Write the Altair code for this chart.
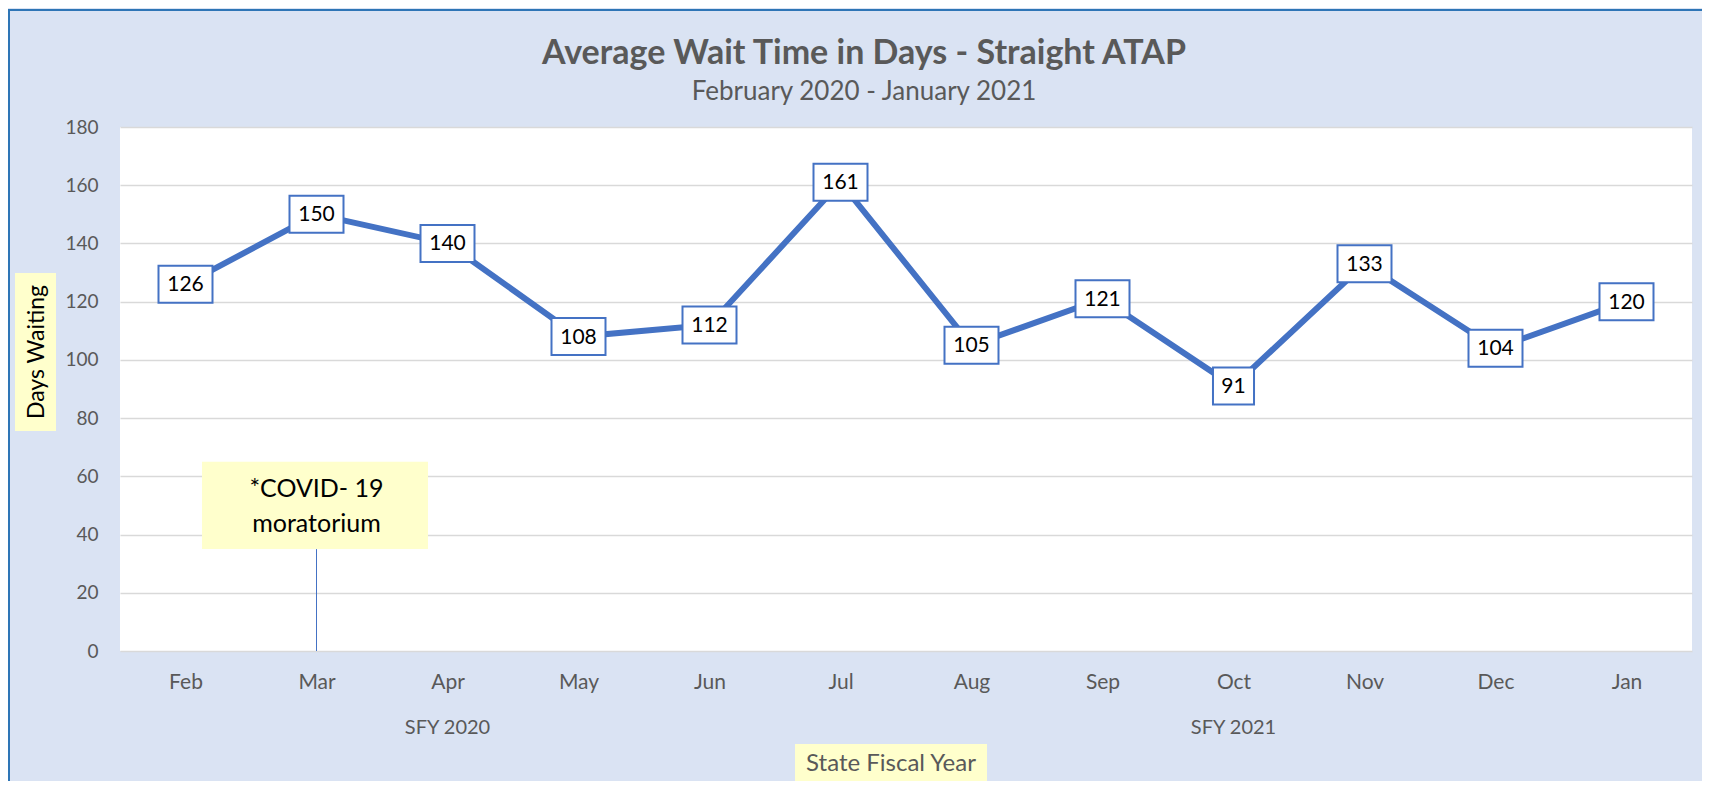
import altair as alt
import pandas as pd

# ---- data ----
months = ["Feb", "Mar", "Apr", "May", "Jun", "Jul", "Aug", "Sep", "Oct", "Nov", "Dec", "Jan"]
days_waiting = [126, 150, 140, 108, 112, 161, 105, 121, 91, 133, 104, 120]

fy_months = ["Apr", "Oct"]
fy_labels = ["SFY 2020", "SFY 2021"]

note_month = ["Mar"]
note_text = ["*COVID- 19\nmoratorium"]
note_low = [35]
note_high = [65]

title_text = "Average Wait Time in Days - Straight ATAP"
subtitle_text = "February 2020 - January 2021"
y_title = "Days Waiting"
x_title = "State Fiscal Year"

# ---- styling ----
FONT = "Lato"
BLUE = "#4472C4"
GREY = "#595959"
BG = "#DAE3F3"
YELLOW = "#FFFFCC"

df = pd.DataFrame({
    "month": months,
    "days": days_waiting,
    "label": [str(v) for v in days_waiting],
    "digits": [str(len(str(v))) for v in days_waiting],
})
fy_df = pd.DataFrame({"month": fy_months, "label": fy_labels})
note_df = pd.DataFrame({"month": note_month, "text": note_text,
                        "lo": note_low, "hi": note_high, "zero": [0]})

xscale = alt.Scale(type="point", domain=months, padding=0.5)
yscale = alt.Scale(domain=[0, 180])

x_enc = alt.X("month:N", scale=xscale, sort=months,
              axis=alt.Axis(title=None, labelAngle=0, labelFont=FONT, labelFontSize=21,
                            labelColor=GREY, labelPadding=20, ticks=False, domain=False,
                            grid=False))
y_enc = alt.Y("days:Q", scale=yscale,
              axis=alt.Axis(title=None, values=list(range(0, 181, 20)), labelFont=FONT,
                            labelFontSize=19, labelColor=GREY, labelPadding=22, ticks=False,
                            domain=False, grid=True, gridColor="#D9D9D9", gridWidth=1.5))

base = alt.Chart(df)

line = base.mark_line(color=BLUE, strokeWidth=6).encode(x=x_enc, y=y_enc)

path3 = "M-1,-0.685L1,-0.685L1,0.685L-1,0.685Z"
path2 = "M-0.76,-0.685L0.76,-0.685L0.76,0.685L-0.76,0.685Z"
boxes = base.mark_point(filled=True, fill="white", stroke=BLUE, strokeWidth=2,
                        opacity=1, size=2916).encode(
    x=alt.X("month:N", scale=xscale, sort=months),
    y=alt.Y("days:Q", scale=yscale),
    shape=alt.Shape("digits:N", scale=alt.Scale(domain=["2", "3"], range=[path2, path3]),
                    legend=None),
)
labels = base.mark_text(font=FONT, fontSize=21, color="black", baseline="middle",
                        align="center", dy=1).encode(
    x=alt.X("month:N", scale=xscale, sort=months),
    y=alt.Y("days:Q", scale=yscale),
    text="label:N",
)

# COVID annotation
note_base = alt.Chart(note_df)
note_rule = note_base.mark_rule(color=BLUE, strokeWidth=1).encode(
    x=alt.X("month:N", scale=xscale, sort=months),
    y=alt.Y("zero:Q", scale=yscale),
    y2="lo:Q",
)
note_box = note_base.mark_rect(fill=YELLOW, opacity=1).encode(
    x=alt.value(82), x2=alt.value(308),
    y=alt.Y("lo:Q", scale=yscale), y2="hi:Q",
)
note_label = note_base.mark_text(font=FONT, fontSize=25, color="black", baseline="middle",
                                 align="center", lineBreak="\n", lineHeight=35).encode(
    x=alt.X("month:N", scale=xscale, sort=months),
    y=alt.value(362),
    text="text:N",
)

# fiscal year group labels
fy_text = alt.Chart(fy_df).mark_text(font=FONT, fontSize=20, color=GREY,
                                     baseline="middle", align="center").encode(
    x=alt.X("month:N", scale=xscale, sort=months),
    y=alt.value(601),
    text="label:N",
)

# axis titles in yellow boxes
xt_df = pd.DataFrame({"t": [x_title]})
x_title_box = alt.Chart(xt_df).mark_rect(fill=YELLOW).encode(
    x=alt.value(675), x2=alt.value(867), y=alt.value(617), y2=alt.value(657))
x_title_txt = alt.Chart(xt_df).mark_text(font=FONT, fontSize=24, color=GREY,
                                         baseline="middle", align="center").encode(
    x=alt.value(771), y=alt.value(637), text="t:N")

yt_df = pd.DataFrame({"t": [y_title]})
y_title_box = alt.Chart(yt_df).mark_rect(fill=YELLOW).encode(
    x=alt.value(-105), x2=alt.value(-64), y=alt.value(146), y2=alt.value(304))
y_title_txt = alt.Chart(yt_df).mark_text(font=FONT, fontSize=23, color="black",
                                         baseline="middle", align="center",
                                         angle=270).encode(
    x=alt.value(-83), y=alt.value(225), text="t:N")

# chart title and subtitle
tt_df = pd.DataFrame({"t": [title_text], "s": [subtitle_text]})
title_txt = alt.Chart(tt_df).mark_text(font=FONT, fontSize=34, fontWeight="bold", color=GREY,
                                       baseline="alphabetic", align="center").encode(
    x=alt.value(744), y=alt.value(-63), text="t:N")
subtitle_txt = alt.Chart(tt_df).mark_text(font=FONT, fontSize=26, color=GREY,
                                          baseline="alphabetic", align="center").encode(
    x=alt.value(744), y=alt.value(-27), text="s:N")

# frame border (left + top)
left_border = alt.Chart(xt_df).mark_rule(color="#2E75B6", strokeWidth=2).encode(
    x=alt.value(-111), y=alt.value(-118), y2=alt.value(660))
top_border = alt.Chart(xt_df).mark_rule(color="#2E75B6", strokeWidth=2).encode(
    x=alt.value(-112), x2=alt.value(1600), y=alt.value(-117))

chart = alt.layer(
    line, note_rule, note_box, note_label, boxes, labels, fy_text,
    x_title_box, x_title_txt, y_title_box, y_title_txt, title_txt, subtitle_txt,
    left_border, top_border,
).properties(
    width=1572,
    height=524,
    padding={"left": 112, "top": 119, "right": 10, "bottom": 130},
    autosize=alt.AutoSizeParams(type="none"),
    background=BG,
).configure_view(fill="white", stroke=None)

chart.save("out.html", embed_options={"renderer": "svg", "actions": False})
